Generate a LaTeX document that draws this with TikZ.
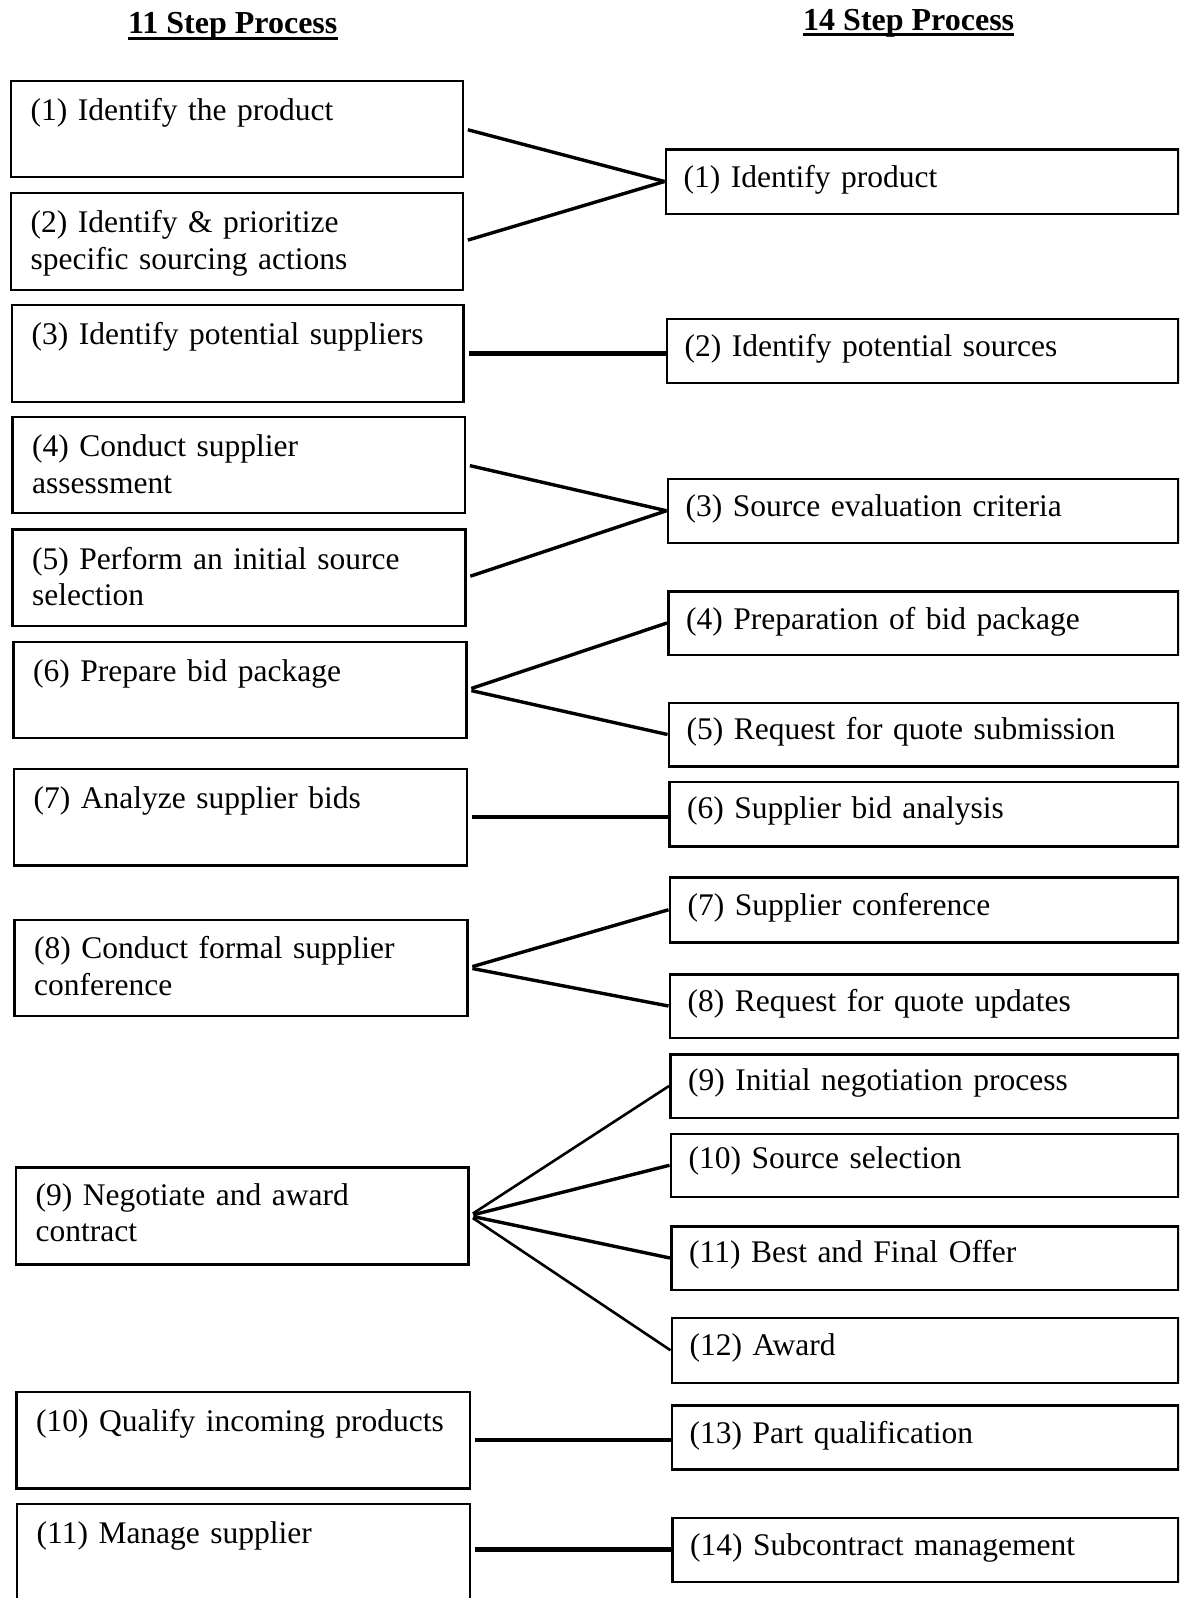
\documentclass[tikz,border=0pt]{standalone}
\usepackage{fontspec}
\setmainfont{Liberation Serif}
\usetikzlibrary{calc}
% body text of the step boxes, with slightly tighter word spacing
\newcommand\stepfont{\fontsize{31.5}{36.5}\selectfont\spaceskip=6.3pt plus 2pt minus 1pt\relax}
\begin{document}
\begin{tikzpicture}[x=1pt,y=-1pt,
  stepbox/.style={draw, line width=2.5pt, inner sep=0pt, anchor=north west},
  steptext/.style={anchor=base west, inner sep=0pt, text width=440pt, align=left,
    font=\stepfont},
  link/.style={line width=3.4pt, shorten <=4pt},
  thinlink/.style={line width=2.6pt, shorten <=4pt},
  straight/.style={line width=4.6pt, shorten <=4pt},
  heading/.style={anchor=base west, inner sep=0pt, font=\fontsize{32}{36}\selectfont\bfseries}]

\fill[white] (0,0) rectangle (1179,1598);
\clip (0,0) rectangle (1179,1598);

% column headings
\node[heading] (h11) at (128,33.5) {11 Step Process};
\node[heading] (h14) at (803,30) {14 Step Process};
\draw[line width=2.5pt] ([yshift=-5pt]h11.base west) -- ([yshift=-5pt]h11.base east);
\draw[line width=2.5pt] ([yshift=-4.5pt]h14.base west) -- ([yshift=-4.5pt]h14.base east);

% 11 step process (left column)
\node[stepbox, minimum width=452pt, minimum height=96pt] (L1) at (9.5,79.5) {};
\node[stepbox, minimum width=452pt, minimum height=97pt] (L2) at (9.5,191.5) {};
\node[stepbox, minimum width=451.5pt, minimum height=97pt] (L3) at (10.5,303.5) {};
\node[stepbox, minimum width=452.5pt, minimum height=96pt] (L4) at (11,415.5) {};
\node[stepbox, minimum width=453pt, minimum height=96.5pt] (L5) at (11,528) {};
\node[stepbox, minimum width=453pt, minimum height=96pt] (L6) at (12,640.5) {};
\node[stepbox, minimum width=453pt, minimum height=96.5pt] (L7) at (12.5,767.5) {};
\node[stepbox, minimum width=453pt, minimum height=96pt] (L8) at (13,918.5) {};
\node[stepbox, minimum width=452.5pt, minimum height=97pt] (L9) at (14.5,1166) {};
\node[stepbox, minimum width=453.5pt, minimum height=96.5pt] (L10) at (15,1390.5) {};
\node[stepbox, minimum width=453pt, minimum height=102pt] (L11) at (15.5,1502.5) {};

\node[steptext] (L1t) at ($(L1.north west)+(21,41)$) {(1) Identify the product};
\node[steptext] (L2t) at ($(L2.north west)+(21,41)$) {(2) Identify \& prioritize\\specific sourcing actions};
\node[steptext] (L3t) at ($(L3.north west)+(21,41)$) {(3) Identify potential suppliers};
\node[steptext] (L4t) at ($(L4.north west)+(21,41)$) {(4) Conduct supplier\\assessment};
\node[steptext] (L5t) at ($(L5.north west)+(21,41)$) {(5) Perform an initial source\\selection};
\node[steptext] (L6t) at ($(L6.north west)+(21,41)$) {(6) Prepare bid package};
\node[steptext] (L7t) at ($(L7.north west)+(21,41)$) {(7) Analyze supplier bids};
\node[steptext] (L8t) at ($(L8.north west)+(21,40)$) {(8) Conduct formal supplier\\conference};
\node[steptext] (L9t) at ($(L9.north west)+(21,39)$) {(9) Negotiate and award\\contract};
\node[steptext] (L10t) at ($(L10.north west)+(21,41)$) {(10) Qualify incoming products};
\node[steptext] (L11t) at ($(L11.north west)+(21,41)$) {(11) Manage supplier};

% 14 step process (right column)
\node[stepbox, minimum width=512.5pt, minimum height=64.5pt] (R1) at (664.5,148) {};
\node[stepbox, minimum width=511.5pt, minimum height=64pt] (R2) at (665.5,317.5) {};
\node[stepbox, minimum width=510.5pt, minimum height=64pt] (R3) at (666.5,477.5) {};
\node[stepbox, minimum width=510pt, minimum height=63.5pt] (R4) at (667,590) {};
\node[stepbox, minimum width=509.5pt, minimum height=63.5pt] (R5) at (667.5,701.5) {};
\node[stepbox, minimum width=509pt, minimum height=64.5pt] (R6) at (668,780.5) {};
\node[stepbox, minimum width=508.5pt, minimum height=65pt] (R7) at (668.5,876) {};
\node[stepbox, minimum width=508.5pt, minimum height=63.5pt] (R8) at (668.5,973) {};
\node[stepbox, minimum width=508pt, minimum height=63.5pt] (R9) at (669,1053) {};
\node[stepbox, minimum width=507.5pt, minimum height=63pt] (R10) at (669.5,1132.5) {};
\node[stepbox, minimum width=507pt, minimum height=63.5pt] (R11) at (670,1225) {};
\node[stepbox, minimum width=506.5pt, minimum height=65pt] (R12) at (670.5,1316.5) {};
\node[stepbox, minimum width=506.5pt, minimum height=64pt] (R13) at (670.5,1404) {};
\node[stepbox, minimum width=506pt, minimum height=64pt] (R14) at (671,1516.5) {};

\node[steptext] (R1t) at ($(R1.north west)+(19,39)$) {(1) Identify product};
\node[steptext] (R2t) at ($(R2.north west)+(19,39)$) {(2) Identify potential sources};
\node[steptext] (R3t) at ($(R3.north west)+(19,39)$) {(3) Source evaluation criteria};
\node[steptext] (R4t) at ($(R4.north west)+(19,39)$) {(4) Preparation of bid package};
\node[steptext] (R5t) at ($(R5.north west)+(19,38)$) {(5) Request for quote submission};
\node[steptext] (R6t) at ($(R6.north west)+(19,38)$) {(6) Supplier bid analysis};
\node[steptext] (R7t) at ($(R7.north west)+(19,39)$) {(7) Supplier conference};
\node[steptext] (R8t) at ($(R8.north west)+(19,38.5)$) {(8) Request for quote updates};
\node[steptext] (R9t) at ($(R9.north west)+(19,37)$) {(9) Initial negotiation process};
\node[steptext] (R10t) at ($(R10.north west)+(19,36)$) {(10) Source selection};
\node[steptext] (R11t) at ($(R11.north west)+(19,37)$) {(11) Best and Final Offer};
\node[steptext] (R12t) at ($(R12.north west)+(19,38.5)$) {(12) Award};
\node[steptext] (R13t) at ($(R13.north west)+(19,39)$) {(13) Part qualification};
\node[steptext] (R14t) at ($(R14.north west)+(19,38.5)$) {(14) Subcontract management};

% correspondences between the two processes
\draw[link] (L1.east) -- (R1.west);
\draw[link] (L2.east) -- (R1.west);
\draw[straight] (L3.east) -- (L3.east -| R2.west);
\draw[link] (L4.east) -- (R3.west);
\draw[link] (L5.east) -- (R3.west);
\draw[link] (L6.east) -- (R4.west);
\draw[link] (L6.east) -- (R5.west);
\draw[straight] (L7.east) -- (L7.east -| R6.west);
\draw[link] (L8.east) -- (R7.west);
\draw[link] (L8.east) -- (R8.west);
\draw[thinlink] (L9.east) -- (R9.west);
\draw[link] (L9.east) -- (R10.west);
\draw[link] (L9.east) -- (R11.west);
\draw[thinlink] (L9.east) -- (R12.west);
\draw[straight] (L10.east) -- (L10.east -| R13.west);
\draw[straight] (R14.west -| L11.east) -- (R14.west);
\end{tikzpicture}
\end{document}
